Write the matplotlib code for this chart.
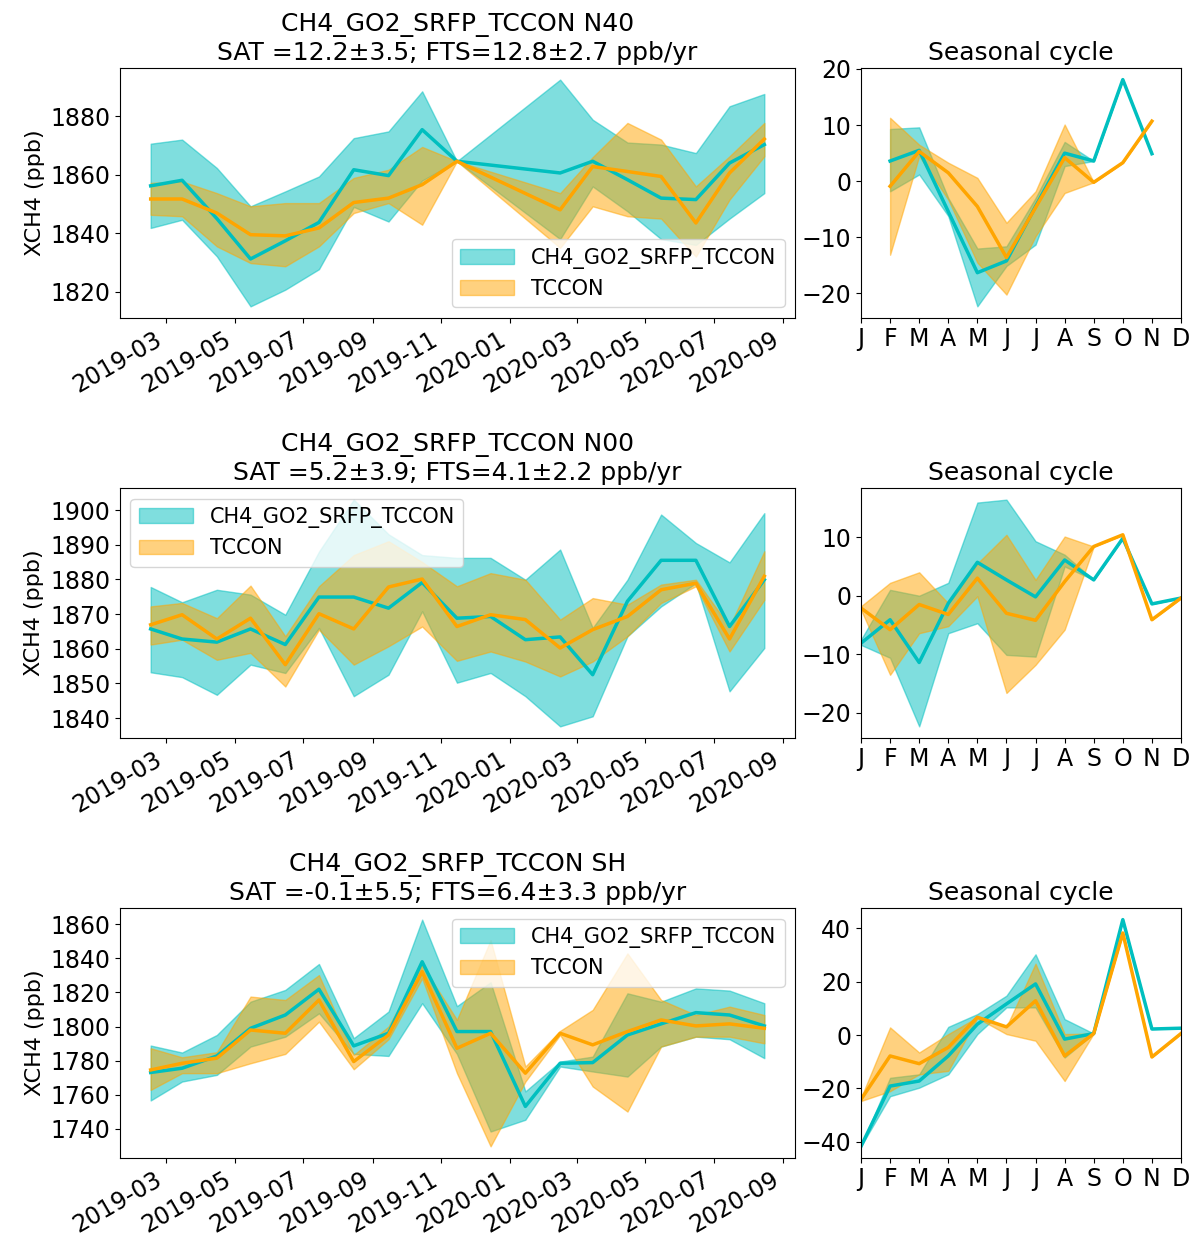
import numpy as np
import matplotlib
matplotlib.use("Agg")
import matplotlib.pyplot as plt
import matplotlib.dates as mdates
from matplotlib.ticker import MultipleLocator
import datetime as dt

# ---------------- data ----------------
labels = ["CH4_GO2_SRFP_TCCON", "TCCON"]
month_letters = ["J", "F", "M", "A", "M", "J", "J", "A", "S", "O", "N", "D"]

titles = [
    "CH4_GO2_SRFP_TCCON N40\nSAT =12.2±3.5; FTS=12.8±2.7 ppb/yr",
    "CH4_GO2_SRFP_TCCON N00\nSAT =5.2±3.9; FTS=4.1±2.2 ppb/yr",
    "CH4_GO2_SRFP_TCCON SH\nSAT =-0.1±5.5; FTS=6.4±3.3 ppb/yr",
]
ytick_steps = [20, 10, 20]

# N40 time series (no data Dec 2019 / Jan 2020)
n40_dates = ["2019-02-15", "2019-03-15", "2019-04-15", "2019-05-15", "2019-06-15",
             "2019-07-15", "2019-08-15", "2019-09-15", "2019-10-15", "2019-11-15",
             "2020-02-15", "2020-03-15", "2020-04-15", "2020-05-15", "2020-06-15",
             "2020-07-15", "2020-08-15"]
n40_sat = [1856.2, 1858.1, 1845.0, 1831.2, 1837.4, 1843.7, 1861.7, 1859.7, 1875.4, 1864.6,
           1860.6, 1864.6, 1858.3, 1852.0, 1851.5, 1864.0, 1870.3]
n40_sat_hi = [1870.6, 1872.0, 1862.3, 1849.2, 1854.3, 1859.4, 1872.5, 1874.8, 1888.5, 1864.6,
              1892.5, 1878.8, 1871.0, 1870.3, 1867.4, 1883.4, 1887.6]
n40_sat_lo = [1841.8, 1844.6, 1832.1, 1815.0, 1820.7, 1827.7, 1849.0, 1844.0, 1858.0, 1864.6,
              1838.0, 1856.0, 1847.5, 1838.0, 1836.0, 1845.0, 1853.7]
n40_fts = [1851.7, 1851.7, 1846.9, 1839.5, 1839.1, 1841.8, 1850.5, 1852.0, 1856.6, 1864.6,
           1848.0, 1862.8, 1861.1, 1859.4, 1843.5, 1860.6, 1872.2]
n40_fts_hi = [1857.2, 1857.7, 1853.7, 1849.2, 1850.3, 1850.3, 1858.9, 1861.7, 1869.5, 1864.6,
              1853.7, 1866.0, 1877.7, 1872.0, 1856.0, 1866.3, 1877.7]
n40_fts_lo = [1846.3, 1845.8, 1835.5, 1829.8, 1828.7, 1835.5, 1846.9, 1850.3, 1842.9, 1864.6,
              1835.0, 1849.2, 1845.8, 1845.0, 1832.0, 1851.5, 1866.3]

# N00 / SH time series (monthly Feb 2019 - Aug 2020)
full_dates = ["2019-02-15", "2019-03-15", "2019-04-15", "2019-05-15", "2019-06-15",
              "2019-07-15", "2019-08-15", "2019-09-15", "2019-10-15", "2019-11-15",
              "2019-12-15", "2020-01-15", "2020-02-15", "2020-03-15", "2020-04-15",
              "2020-05-15", "2020-06-15", "2020-07-15", "2020-08-15"]
n00_sat = [1865.7, 1862.8, 1861.9, 1865.7, 1861.2, 1874.9, 1874.9, 1871.7, 1879.1, 1868.8,
           1869.3, 1862.6, 1863.4, 1852.5, 1873.7, 1885.5, 1885.5, 1866.4, 1879.9]
n00_sat_hi = [1877.8, 1873.4, 1877.0, 1875.6, 1869.8, 1888.0, 1903.0, 1893.0, 1887.0, 1886.2,
              1886.2, 1879.9, 1888.6, 1866.0, 1879.9, 1898.7, 1890.5, 1884.9, 1899.1]
n00_sat_lo = [1853.2, 1851.8, 1846.7, 1855.4, 1853.0, 1866.0, 1846.3, 1852.5, 1870.8, 1850.2,
              1853.0, 1846.3, 1837.6, 1840.5, 1863.6, 1872.2, 1878.9, 1847.7, 1860.2]
n00_fts = [1866.9, 1869.8, 1862.8, 1868.8, 1855.4, 1870.1, 1865.7, 1877.8, 1880.1, 1866.4,
           1869.8, 1868.4, 1860.2, 1865.5, 1869.3, 1877.0, 1878.9, 1862.8, 1880.9]
n00_fts_hi = [1872.2, 1873.2, 1868.8, 1878.2, 1863.6, 1878.0, 1887.0, 1891.0, 1885.0, 1878.0,
              1881.8, 1879.9, 1868.4, 1874.6, 1872.7, 1878.5, 1879.9, 1866.4, 1888.1]
n00_fts_lo = [1861.2, 1862.6, 1856.8, 1858.8, 1849.1, 1865.5, 1855.4, 1860.7, 1866.4, 1856.5,
              1859.2, 1856.3, 1852.0, 1856.3, 1863.6, 1873.2, 1878.0, 1859.2, 1874.1]

sh_sat = [1773.1, 1775.6, 1782.8, 1799.0, 1806.8, 1821.9, 1788.7, 1796.1, 1838.0, 1797.1,
          1797.1, 1753.2, 1778.5, 1778.9, 1795.1, 1801.6, 1808.2, 1806.8, 1800.4]
sh_sat_hi = [1788.9, 1784.8, 1795.1, 1814.6, 1821.5, 1836.7, 1793.2, 1808.8, 1862.7, 1812.0,
             1826.0, 1762.0, 1779.5, 1782.4, 1819.5, 1814.6, 1822.4, 1821.1, 1813.7]
sh_sat_lo = [1756.7, 1767.8, 1771.7, 1788.3, 1794.1, 1807.8, 1784.0, 1782.8, 1813.7, 1784.0,
             1738.5, 1745.4, 1776.6, 1773.7, 1770.7, 1788.3, 1794.1, 1792.6, 1781.5]
sh_fts = [1774.6, 1778.5, 1781.5, 1798.0, 1796.1, 1815.6, 1779.5, 1795.1, 1832.2, 1787.3,
          1796.1, 1772.7, 1796.1, 1789.3, 1797.1, 1803.9, 1800.4, 1801.6, 1799.0]
sh_fts_hi = [1787.3, 1782.0, 1785.0, 1817.6, 1815.6, 1830.2, 1783.4, 1800.0, 1836.1, 1804.0,
             1850.7, 1776.6, 1797.5, 1809.8, 1842.9, 1815.6, 1806.8, 1811.7, 1806.8]
sh_fts_lo = [1762.9, 1772.7, 1772.7, 1778.5, 1784.0, 1802.9, 1775.0, 1792.6, 1828.3, 1772.7,
             1729.8, 1767.8, 1795.1, 1764.9, 1750.2, 1788.3, 1794.1, 1794.1, 1790.2]

# Seasonal cycles
n40_months = [2, 3, 4, 5, 6, 7, 8, 9, 10, 11]
n40_sc_sat = [3.6, 5.5, -5.4, -16.3, -14.2, -4.5, 5.0, 3.6, 18.1, 4.9]
n40_sc_sat_hi = [9.3, 9.6, -3.0, -12.0, -11.6, -3.0, 7.0, 3.6, 18.1, 4.9]
n40_sc_sat_lo = [-1.8, 1.2, -6.2, -22.3, -15.1, -11.3, 2.7, 3.6, 18.1, 4.9]
n40_sc_fts = [-0.9, 5.3, 1.5, -4.5, -13.6, -4.7, 4.2, -0.2, 3.3, 10.7]
n40_sc_fts_hi = [11.3, 6.5, 3.3, 0.6, -7.4, -1.8, 10.1, -0.2, 3.3, 10.7]
n40_sc_fts_lo = [-13.1, 4.5, -3.3, -14.5, -20.2, -9.8, -2.1, -0.2, 3.3, 10.7]

all_months = [1, 2, 3, 4, 5, 6, 7, 8, 9, 10, 11, 12]
n00_sc_sat = [-8.1, -4.1, -11.4, -1.3, 5.7, 2.7, -0.2, 6.1, 2.7, 9.8, -1.4, -0.4]
n00_sc_sat_hi = [-7.5, 1.0, 0.0, 2.2, 15.9, 16.4, 9.3, 7.0, 2.7, 9.8, -1.4, -0.4]
n00_sc_sat_lo = [-8.4, -10.6, -22.3, -6.4, -4.7, -10.1, -10.4, 5.0, 2.7, 9.8, -1.4, -0.4]
n00_sc_fts = [-2.1, -5.8, -1.5, -3.2, 3.0, -3.0, -4.2, 2.4, 8.4, 10.4, -4.1, -0.4]
n00_sc_fts_hi = [-1.8, 2.2, 4.0, -1.3, 5.5, 10.4, 2.7, 10.1, 8.4, 10.4, -4.1, -0.4]
n00_sc_fts_lo = [-2.4, -13.5, -6.4, -5.2, -0.1, -16.6, -11.8, -5.8, 8.4, 10.4, -4.1, -0.4]

sh_sc_sat = [-41.7, -19.1, -17.2, -7.8, 4.1, 11.7, 19.2, -1.5, 0.6, 43.3, 2.3, 2.6]
sh_sc_sat_hi = [-41.7, -16.0, -14.7, 3.1, 7.9, 14.8, 30.3, 6.0, 0.6, 43.3, 2.3, 2.6]
sh_sc_sat_lo = [-41.7, -22.9, -19.7, -14.7, 0.4, 10.4, 10.4, -8.4, 0.6, 43.3, 2.3, 2.6]
sh_sc_fts = [-24.1, -7.8, -10.7, -4.6, 6.7, 3.1, 12.9, -7.8, 0.6, 38.3, -8.2, 0.6]
sh_sc_fts_hi = [-23.5, 2.9, -6.5, 0.4, 6.7, 3.1, 26.8, 0.4, 0.6, 38.3, -8.2, 0.6]
sh_sc_fts_lo = [-24.7, -21.0, -14.7, -13.4, 6.4, 0.4, -2.1, -17.2, 0.6, 38.3, -8.2, 0.6]

# ---------------- plotting ----------------
SAT_C = "c"
FTS_C = "orange"
TICK_FS = 17
TITLE_FS = 18
LEG_FS = 15
LAB_FS = 16

W, H = 1197, 1243
fig = plt.figure(figsize=(W / 100, H / 100), dpi=100)


def frac(x0, y_top, x1, y_bot):
    return [x0 / W, 1 - y_bot / H, (x1 - x0) / W, (y_bot - y_top) / H]


rows = [(68.3, 317.7), (488.3, 737.7), (908.3, 1157.7)]

ts = [
    (n40_dates, n40_sat, n40_sat_lo, n40_sat_hi, n40_fts, n40_fts_lo, n40_fts_hi, "lower right"),
    (full_dates, n00_sat, n00_sat_lo, n00_sat_hi, n00_fts, n00_fts_lo, n00_fts_hi, "upper left"),
    (full_dates, sh_sat, sh_sat_lo, sh_sat_hi, sh_fts, sh_fts_lo, sh_fts_hi, "upper right"),
]
sc = [
    (n40_months, n40_sc_sat, n40_sc_sat_lo, n40_sc_sat_hi, n40_sc_fts, n40_sc_fts_lo, n40_sc_fts_hi),
    (all_months, n00_sc_sat, n00_sc_sat_lo, n00_sc_sat_hi, n00_sc_fts, n00_sc_fts_lo, n00_sc_fts_hi),
    (all_months, sh_sc_sat, sh_sc_sat_lo, sh_sc_sat_hi, sh_sc_fts, sh_sc_fts_lo, sh_sc_fts_hi),
]

for i, (yt, yb) in enumerate(rows):
    # time series panel
    ax = fig.add_axes(frac(120, yt, 795, yb))
    d, s, slo, shi, f, flo, fhi, loc = ts[i]
    x = [dt.datetime.strptime(v, "%Y-%m-%d") for v in d]
    ax.fill_between(x, slo, shi, color=SAT_C, alpha=0.5, label=labels[0])
    ax.fill_between(x, flo, fhi, color=FTS_C, alpha=0.5, label=labels[1])
    ax.plot(x, s, color=SAT_C, lw=2.5)
    ax.plot(x, f, color=FTS_C, lw=2.5)
    ax.xaxis.set_major_locator(mdates.MonthLocator(bymonth=[1, 3, 5, 7, 9, 11]))
    ax.xaxis.set_major_formatter(mdates.DateFormatter("%Y-%m"))
    ax.yaxis.set_major_locator(MultipleLocator(ytick_steps[i]))
    for lab in ax.get_xticklabels():
        lab.set_rotation(30)
        lab.set_ha("right")
    ax.tick_params(labelsize=TICK_FS)
    ax.set_ylabel("XCH4 (ppb)", fontsize=LAB_FS)
    ax.set_title(titles[i], fontsize=TITLE_FS)
    ax.legend(loc=loc, fontsize=LEG_FS, handlelength=2.6)

    # seasonal cycle panel
    ax2 = fig.add_axes(frac(861, yt, 1181, yb))
    m, s, slo, shi, f, flo, fhi = sc[i]
    ax2.fill_between(m, slo, shi, color=SAT_C, alpha=0.5)
    ax2.fill_between(m, flo, fhi, color=FTS_C, alpha=0.5)
    ax2.plot(m, s, color=SAT_C, lw=2.5)
    ax2.plot(m, f, color=FTS_C, lw=2.5)
    ax2.set_xlim(1, 12)
    ax2.set_xticks(all_months)
    ax2.set_xticklabels(month_letters)
    ax2.tick_params(labelsize=TICK_FS)
    ax2.set_title("Seasonal cycle", fontsize=TITLE_FS)

fig.savefig("out.png", dpi=100)
